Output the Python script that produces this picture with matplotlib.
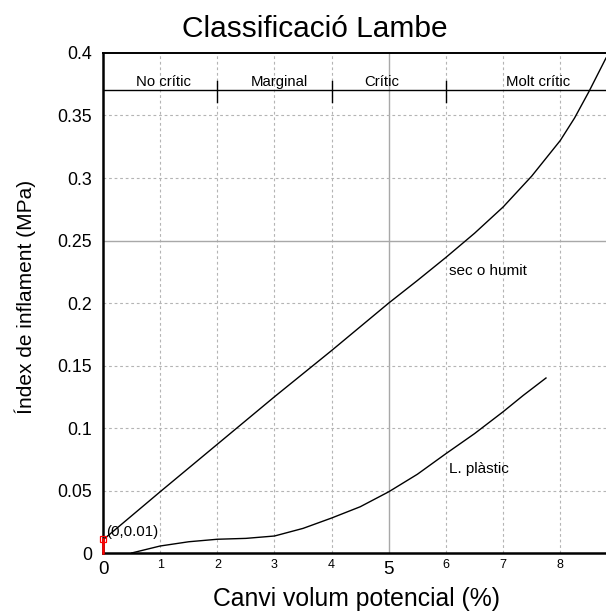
import matplotlib
matplotlib.use("Agg")
import matplotlib.pyplot as plt
import numpy as np

plt.rcParams['font.family'] = ['Liberation Sans', 'DejaVu Sans']

# curve "sec o humit"
sec_x = [0, 1, 2, 3, 4, 5, 5.5, 6, 6.5, 7, 7.5, 8, 8.25, 8.5, 8.8]
sec_y = [0.0105, 0.049, 0.087, 0.125, 0.162, 0.200, 0.218, 0.2365, 0.2558, 0.2768, 0.3015, 0.330, 0.348, 0.369, 0.396]

# curve "L. plàstic"
pla_x = [0.5, 1.0, 1.5, 2.0, 2.5, 3.0, 3.5, 4.0, 4.5, 5.0, 5.5, 6.0, 6.5, 7.0, 7.35, 7.75]
pla_y = [0.0, 0.0056, 0.009, 0.011, 0.0117, 0.0136, 0.0197, 0.028, 0.037, 0.049, 0.063, 0.0795, 0.0955, 0.113, 0.126, 0.140]

# classification bands
band_edges = [2, 4, 6]
band_names = ['No crític', 'Marginal', 'Crític', 'Molt crític']
band_label_x = [1.06, 3.09, 4.87, 7.62]
band_y = 0.37

x_big_ticks = [0, 5]
x_small_ticks = [1, 2, 3, 4, 6, 7, 8]
y_ticks = [0, 0.05, 0.1, 0.15, 0.2, 0.25, 0.3, 0.35, 0.4]
y_tick_labels = ['0', '0.05', '0.1', '0.15', '0.2', '0.25', '0.3', '0.35', '0.4']

fig = plt.figure(figsize=(6.06, 6.12), dpi=100)
ax = fig.add_axes([0.170, 0.0964, 0.83, 0.817])
ax.set_xlim(0, 8.8)
ax.set_ylim(0, 0.4)

# grid
for xv in x_small_ticks:
    ax.axvline(xv, color='#b4b4b4', lw=0.8, ls=(0, (2.5, 2.5)), zorder=0)
ax.axvline(5, color='#a8a8a8', lw=1.0, zorder=0)
for yv in y_ticks[1:-1]:
    if abs(yv - 0.25) < 1e-9:
        ax.axhline(yv, color='#a8a8a8', lw=1.0, zorder=0)
    else:
        ax.axhline(yv, color='#b4b4b4', lw=0.8, ls=(0, (2.5, 2.5)), zorder=0)

# curves
ax.plot(sec_x, sec_y, color='black', lw=1.0)
ax.plot(pla_x, pla_y, color='black', lw=1.0)
ax.text(6.05, 0.226, 'sec o humit', fontsize=11, ha='left', va='center')
ax.text(6.05, 0.067, 'L. plàstic', fontsize=11, ha='left', va='center')

# classification line
ax.axhline(band_y, color='black', lw=1.0)
for xe in band_edges:
    ax.plot([xe, xe], [band_y - 0.0095, band_y + 0.0075], color='black', lw=1.0)
for name, xl in zip(band_names, band_label_x):
    ax.text(xl, band_y + 0.0015, name, fontsize=10.7, ha='center', va='bottom')

# origin point
ax.plot([0, 0], [0, 0.011], color='red', lw=1.8, clip_on=False, zorder=5)
ax.plot([0], [0.011], marker='s', ms=5, mfc='none', mec='red', mew=0.9, clip_on=False, zorder=6)
ax.text(0.05, 0.0165, '(0,0.01)', fontsize=10.8, ha='left', va='center')

# ticks
ax.set_xticks(x_big_ticks)
ax.set_xticklabels([str(v) for v in x_big_ticks], fontsize=13.5)
ax.set_xticks(x_small_ticks, minor=True)
ax.set_xticklabels([str(v) for v in x_small_ticks], minor=True, fontsize=9)
ax.tick_params(axis='x', which='major', length=0, pad=6)
ax.tick_params(axis='x', which='minor', length=0, pad=4)
ax.set_yticks(y_ticks)
ax.set_yticklabels(y_tick_labels, fontsize=12.8)
ax.tick_params(axis='y', length=0, pad=8)

for side in ['left', 'bottom']:
    ax.spines[side].set_linewidth(1.8)
ax.spines['top'].set_linewidth(1.4)
ax.spines['right'].set_visible(False)

fig.text(0.52, 0.9395, 'Classificació Lambe', fontsize=21.5, ha='center', va='baseline')
fig.text(0.589, 0.0098, 'Canvi volum potencial (%)', fontsize=17.8, ha='center', va='baseline')
fig.text(0.041, 0.515, 'Índex de inflament (MPa)', fontsize=15, rotation=90, ha='center', va='center')

fig.savefig('out.png', dpi=100)
